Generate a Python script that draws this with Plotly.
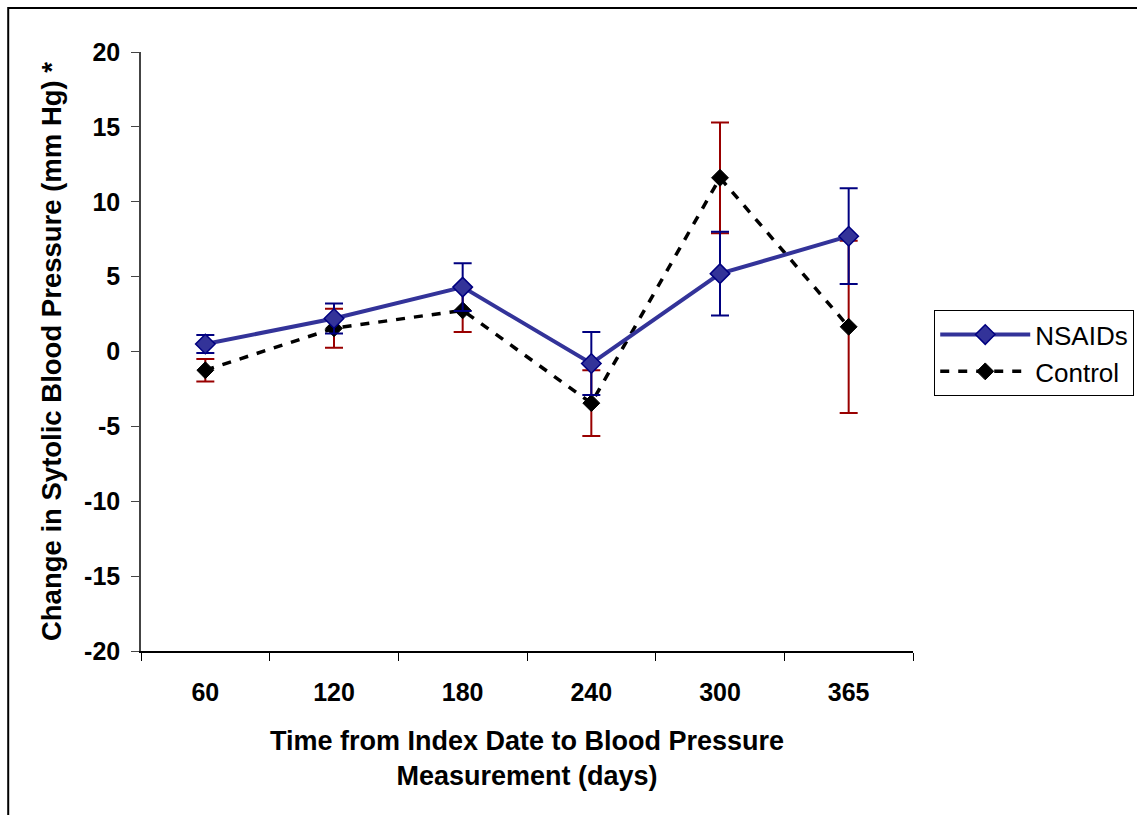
import plotly.graph_objects as go

# Days since index date (category labels on the x axis)
days = ["60", "120", "180", "240", "300", "365"]

# Mean change in systolic blood pressure (mm Hg) and error half-widths
nsaid_change = [0.5, 2.2, 4.3, -0.8, 5.2, 7.7]
nsaid_err = [0.6, 1.0, 1.6, 2.1, 2.8, 3.2]

control_change = [-1.25, 1.55, 2.75, -3.45, 11.6, 1.65]
control_err = [0.75, 1.3, 1.45, 2.2, 3.7, 5.75]

# y-axis ticks, written with a plain hyphen for negatives
y_ticks = [20, 15, 10, 5, 0, -5, -10, -15, -20]
y_tick_text = ["20", "15", "10", "5", "0", "-5", "-10", "-15", "-20"]

FONT = "Liberation Sans, Arial, sans-serif"

fig = go.Figure()

fig.add_trace(go.Scatter(
    x=days, y=control_change, name="Control", mode="lines+markers",
    line=dict(color="black", width=3.5, dash="9px,9px"),
    marker=dict(symbol="diamond", size=13, color="black",
                line=dict(color="black", width=1)),
    error_y=dict(type="data", array=control_err, visible=True,
                 color="#990000", thickness=2, width=9),
    legendgroup="b", legendrank=2,
))

fig.add_trace(go.Scatter(
    x=days, y=nsaid_change, name="NSAIDs", mode="lines+markers",
    line=dict(color="#333399", width=4),
    marker=dict(symbol="diamond", size=15, color="#333399",
                line=dict(color="#000080", width=1.5)),
    error_y=dict(type="data", array=nsaid_err, visible=True,
                 color="#000080", thickness=2, width=9),
    legendgroup="a", legendrank=1,
))

fig.update_layout(
    width=1137, height=815,
    margin=dict(l=141, r=224, t=52, b=164, autoexpand=False),
    paper_bgcolor="white", plot_bgcolor="white",
    font=dict(family=FONT, color="black"),
    showlegend=True,
    legend=dict(
        x=1.0275, y=0.569, xanchor="left", yanchor="top",
        bordercolor="black", borderwidth=1, bgcolor="white",
        font=dict(family=FONT, size=26, color="black"),
        traceorder="grouped", tracegroupgap=0, itemwidth=90,
    ),
    shapes=[dict(
        type="rect", xref="paper", yref="paper",
        x0=-0.172, x1=1.5, y0=-0.5, y1=1.0735,
        line=dict(color="black", width=2), fillcolor="rgba(0,0,0,0)",
        layer="below",
    )],
)

fig.update_xaxes(
    type="category", range=[-0.5, 5.5], tickson="boundaries",
    showline=True, linecolor="black", linewidth=1.5,
    ticks="outside", ticklen=8, tickcolor="black", tickwidth=1,
    ticklabelstandoff=18,
    showgrid=False, zeroline=False,
    tickfont=dict(family=FONT, size=25, color="black", weight="bold"),
    title=dict(
        text="Time from Index Date to Blood Pressure<br>Measurement (days)",
        font=dict(family=FONT, size=27, color="black", weight="bold"),
        standoff=26,
    ),
)

fig.update_yaxes(
    range=[-20, 20], tickvals=y_ticks, ticktext=y_tick_text,
    showline=True, linecolor="#444444", linewidth=1.5,
    ticks="outside", ticklen=8, tickcolor="#444444",
    ticklabelstandoff=6,
    showgrid=False, zeroline=False,
    tickfont=dict(family=FONT, size=25, color="black", weight="bold"),
    title=dict(
        text="Change in Sytolic Blood Pressure (mm Hg) *",
        font=dict(family=FONT, size=27.5, color="black", weight="bold"),
        standoff=14,
    ),
)

fig.write_html("out.html")
